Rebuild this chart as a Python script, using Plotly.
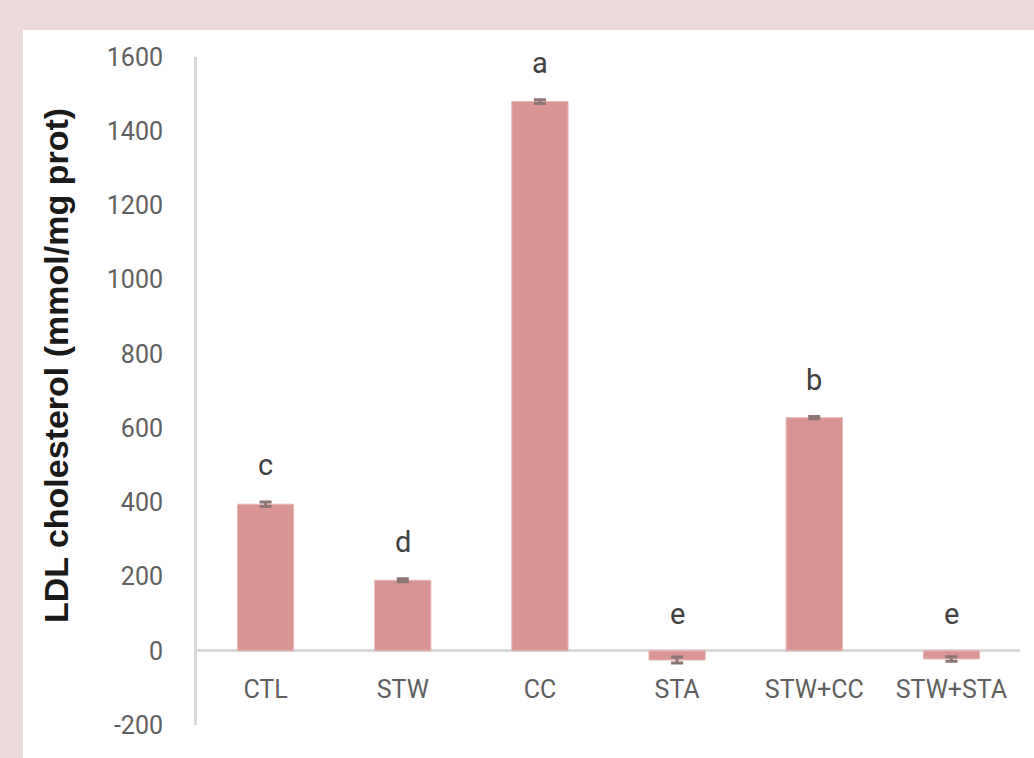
import plotly.graph_objects as go

# LDL cholesterol per treatment group
groups = ["CTL", "STW", "CC", "STA", "STW+CC", "STW+STA"]
ldl = [395, 190, 1480, -25, 628, -22]
ldl_err = [6, 4, 5, 8, 3, 6]
letters = ["c", "d", "a", "e", "b", "e"]
y_ticks = [-200, 0, 200, 400, 600, 800, 1000, 1200, 1400, 1600]
y_tick_text = ["-200", "0", "200", "400", "600", "800", "1000", "1200", "1400", "1600"]

W, H = 1034, 758
L, R, T, B = 197, 14, 57, 33
pw, ph = W - L - R, H - T - B


def px_x(px):
    return (px - L) / pw


def px_y(py):
    return (H - B - py) / ph


bar_color = "#d99594"
tick_color = "#5f5f5f"
line_color = "#d9d9d9"

fig = go.Figure()
fig.add_trace(go.Bar(
    x=groups,
    y=ldl,
    marker=dict(color=bar_color, line=dict(color="#e8b7b6", width=1)),
    error_y=dict(type="data", array=ldl_err, visible=True,
                 color="#8c7676", thickness=3, width=6),
    width=0.41,
    hoverinfo="x+y",
))

# significance letters above each bar
for g, v, e, s in zip(groups, ldl, ldl_err, letters):
    fig.add_annotation(
        x=g, y=max(v, 0) + (e if v > 0 else 0), text=s, showarrow=False,
        xref="x", yref="y", yanchor="bottom", yshift=18,
        font=dict(family="Roboto", size=29, color="#404040"),
    )

# y-axis title
fig.add_annotation(
    x=px_x(56), y=px_y(366), xref="paper", yref="paper",
    text="<b>LDL cholesterol (mmol/mg prot)</b>", textangle=-90,
    showarrow=False, xanchor="center", yanchor="middle",
    font=dict(family="Liberation Sans", size=34, color="#1a1a1a"),
)

# white chart panel on the pink page
fig.add_shape(
    type="rect", xref="paper", yref="paper", layer="below",
    x0=px_x(23), x1=px_x(W + 5), y0=px_y(H + 5), y1=px_y(30),
    fillcolor="white", line=dict(width=0),
)

fig.update_layout(
    width=W, height=H,
    margin=dict(l=L, r=R, t=T, b=B),
    paper_bgcolor="#ecd9da",
    plot_bgcolor="rgba(0,0,0,0)",
    showlegend=False,
    bargap=0.59,
    xaxis=dict(
        type="category", categoryorder="array", categoryarray=groups,
        anchor="free", position=px_y(650),
        showline=False, showgrid=False, zeroline=False, ticks="",
        ticklabelstandoff=22,
        tickfont=dict(family="Roboto", size=25, color=tick_color),
        fixedrange=True,
    ),
    yaxis=dict(
        range=[-200, 1600], tickvals=y_ticks, ticktext=y_tick_text,
        showline=True, linecolor=line_color, linewidth=3,
        showgrid=False, zeroline=True, zerolinecolor=line_color,
        zerolinewidth=3, ticks="", ticklabelstandoff=26,
        tickfont=dict(family="Roboto", size=25, color=tick_color),
        fixedrange=True,
    ),
)

fig.write_html("out.html")
